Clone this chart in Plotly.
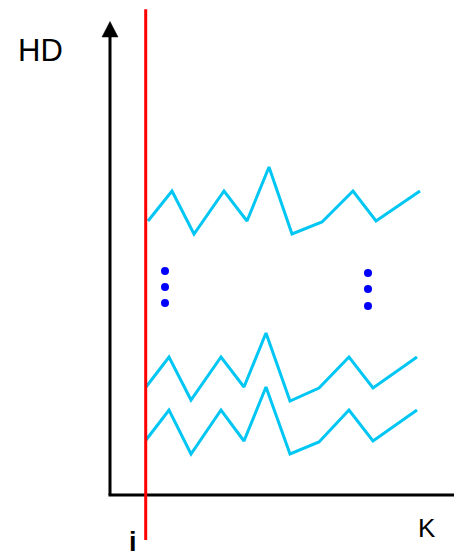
import plotly.graph_objects as go

# Data (axis units: origin at axes corner)
k_top = [38, 62, 84, 114, 137, 159, 182, 212, 243, 266, 310]
hd_top = [274, 304, 261, 304, 274, 328, 261, 273, 304, 274, 304]
k_mid = [36, 59, 81, 111, 134, 156, 180, 209, 239, 263, 307]
hd_mid = [108, 138, 95, 138, 108, 162, 94, 107, 138, 107, 138]
k_bot = [36, 59, 81, 111, 134, 156, 180, 209, 239, 263, 307]
hd_bot = [55, 85, 41, 85, 54, 108, 41, 53, 85, 54, 85]
dots_left_k = [55, 55, 55]
dots_left_hd = [224, 208, 192]
dots_right_k = [258, 258, 258]
dots_right_hd = [222, 206, 189]
i_pos = 35.7

# page has an 8px body margin; figure is 454x546 placed at (8,8)
XR = [-102, 352]
YR = [-59, 487]

fig = go.Figure()
CYAN = "#00c6f4"

# axes lines
fig.add_trace(go.Scatter(x=[0, 0], y=[0, 462], mode="lines",
                         line=dict(color="black", width=3), hoverinfo="skip"))
fig.add_trace(go.Scatter(x=[-1.5, 352], y=[0, 0], mode="lines",
                         line=dict(color="black", width=3), hoverinfo="skip"))
# arrowheads
fig.add_trace(go.Scatter(x=[-8, 8, 0, -8], y=[458, 458, 473.5, 458], mode="lines",
                         fill="toself", fillcolor="black",
                         line=dict(color="black", width=0.5), hoverinfo="skip"))
fig.add_trace(go.Scatter(x=[349.5, 349.5, 366, 349.5], y=[-7.5, 7.5, 0, -7.5], mode="lines",
                         fill="toself", fillcolor="black",
                         line=dict(color="black", width=0.5), hoverinfo="skip"))

for kx, hy in [(k_top, hd_top), (k_mid, hd_mid), (k_bot, hd_bot)]:
    fig.add_trace(go.Scatter(x=kx, y=hy, mode="lines",
                             line=dict(color=CYAN, width=3), hoverinfo="skip"))

# red line
fig.add_trace(go.Scatter(x=[i_pos, i_pos], y=[485.7, -45], mode="lines",
                         line=dict(color="#ff0000", width=3), hoverinfo="skip"))

# dots
fig.add_trace(go.Scatter(x=dots_left_k + dots_right_k, y=dots_left_hd + dots_right_hd,
                         mode="markers", marker=dict(color="#0000ff", size=8),
                         hoverinfo="skip"))

font = "Liberation Sans, Arial, sans-serif"
fig.add_annotation(x=-70, y=445, text="HD", showarrow=False,
                   font=dict(family=font, size=31, color="black"))
fig.add_annotation(x=317, y=-33, text="K", showarrow=False,
                   font=dict(family=font, size=26, color="black"))
fig.add_annotation(x=23, y=-47, text="<b>i</b>", showarrow=False,
                   font=dict(family=font, size=27, color="black"))

fig.update_layout(
    width=454, height=546, margin=dict(l=0, r=0, t=0, b=0),
    paper_bgcolor="white", plot_bgcolor="white", showlegend=False,
    xaxis=dict(range=XR, visible=False, fixedrange=True),
    yaxis=dict(range=YR, visible=False, fixedrange=True),
)
fig.write_html("out.html")
